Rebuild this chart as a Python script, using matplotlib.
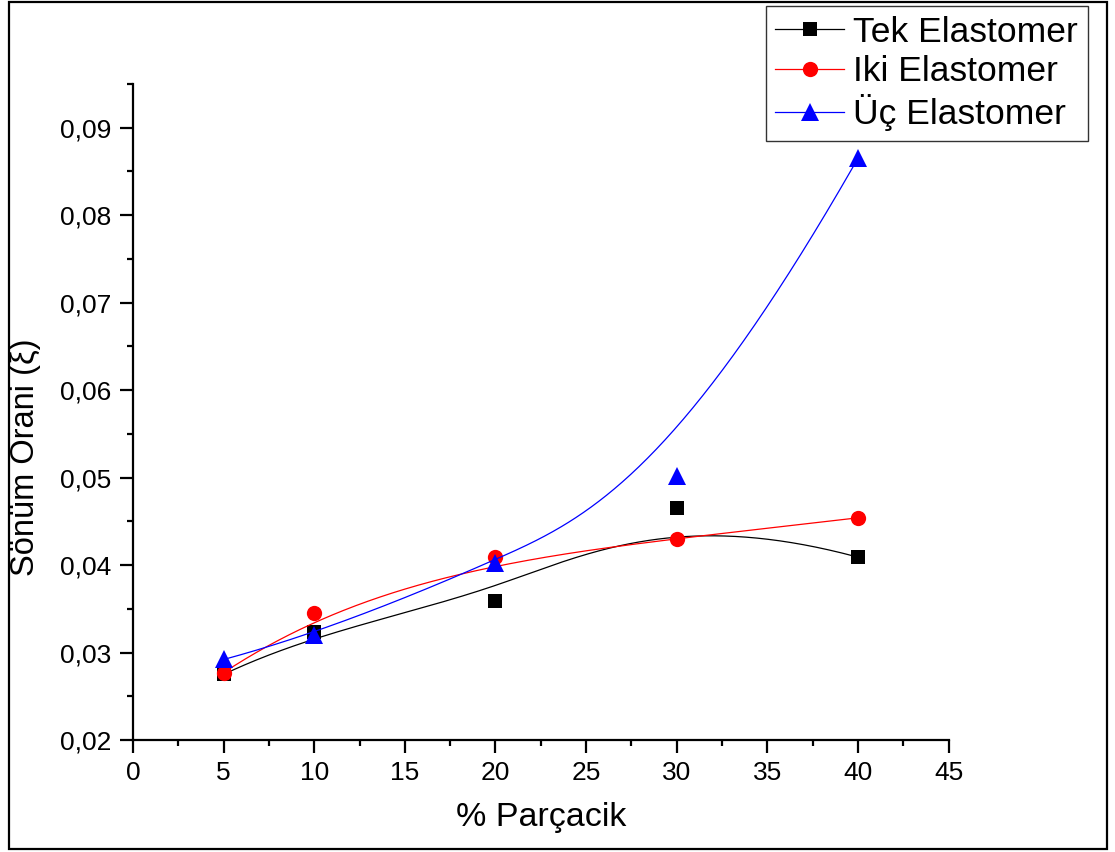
import matplotlib

matplotlib.use("Agg")
import matplotlib.pyplot as plt
import numpy as np
from matplotlib.patches import Rectangle
from matplotlib.ticker import FuncFormatter, MultipleLocator

plt.rcParams["font.family"] = ["Liberation Sans", "DejaVu Sans"]

# particle content (%)
parcacik = [5, 10, 20, 30, 40]

# damping ratio per elastomer count
tek = [0.0275, 0.0324, 0.0359, 0.0465, 0.0409]
iki = [0.0277, 0.0345, 0.0409, 0.0430, 0.0454]
uc = [0.0292, 0.0320, 0.0402, 0.0502, 0.0865]

series = [
    ("Tek Elastomer", tek, "black", "s", 10.5),
    ("Iki Elastomer", iki, "red", "o", 11),
    ("Üç Elastomer", uc, "blue", "^", 13),
]


def bspline(xs, ys, k=3, n=400):
    """Clamped cubic B-spline using the data points as control points."""
    ctrl = np.column_stack([xs, ys]).astype(float)
    m = len(ctrl)
    knots = np.concatenate([np.zeros(k), np.linspace(0, 1, m - k + 1), np.ones(k)])
    t = np.linspace(0, 1, n)
    # degree-0 basis
    N = np.zeros((n, len(knots) - 1))
    for i in range(len(knots) - 1):
        N[:, i] = (knots[i] <= t) & (t < knots[i + 1])
    N[-1, m - 1] = 1.0
    for d in range(1, k + 1):
        Nn = np.zeros((n, len(knots) - 1 - d))
        for i in range(len(knots) - 1 - d):
            left = knots[i + d] - knots[i]
            right = knots[i + d + 1] - knots[i + 1]
            a = (t - knots[i]) / left * N[:, i] if left > 0 else 0
            b = (knots[i + d + 1] - t) / right * N[:, i + 1] if right > 0 else 0
            Nn[:, i] = a + b
        N = Nn
    pts = N @ ctrl
    return pts[:, 0], pts[:, 1]


fig = plt.figure(figsize=(11.15, 8.52), dpi=100)
ax = fig.add_axes([0.1193, 0.1315, 0.7314, 0.7699])

for name, vals, color, marker, ms in series:
    cx, cy = bspline(parcacik, vals)
    ax.plot(cx, cy, color=color, lw=0.9)
    ax.plot(parcacik, vals, linestyle="none", marker=marker, color=color,
            markersize=ms, markeredgewidth=0)
    # legend proxy: line + marker
    ax.plot([], [], color=color, lw=0.9, marker=marker, markersize=ms,
            markeredgewidth=0, label=name)

ax.set_xlim(0, 45)
ax.set_ylim(0.02, 0.0950001)
ax.xaxis.set_major_locator(MultipleLocator(5))
ax.xaxis.set_minor_locator(MultipleLocator(2.5))
ax.yaxis.set_major_locator(MultipleLocator(0.01))
ax.yaxis.set_minor_locator(MultipleLocator(0.005))
ax.yaxis.set_major_formatter(FuncFormatter(lambda v, _: f"{v:.2f}".replace(".", ",")))

for side in ["top", "right"]:
    ax.spines[side].set_visible(False)
for side in ["left", "bottom"]:
    ax.spines[side].set_linewidth(1.6)

ax.tick_params(which="major", direction="out", length=9.5, width=1.6,
               labelsize=19, pad=6)
ax.tick_params(which="minor", direction="out", length=4.5, width=1.6)

ax.set_xlabel("% Parçacik", fontsize=24.5, labelpad=12)
ax.set_ylabel("Sönüm Orani (ξ)", fontsize=23.5)
ax.yaxis.set_label_coords(-0.113, 0.431)

leg = fig.legend(loc="upper right", bbox_to_anchor=(0.9758, 0.993),
                 fontsize=25.5, frameon=True, fancybox=False,
                 handlelength=1.95, handletextpad=0.25, labelspacing=0.17,
                 borderpad=0.28, borderaxespad=0)
leg.get_frame().set_edgecolor("black")
leg.get_frame().set_linewidth(1.0)

# outer frame round the whole figure
fig.patches.append(Rectangle((0.008, 0.0035), 0.9848, 0.9941,
                             transform=fig.transFigure, fill=False,
                             edgecolor="black", linewidth=1.6))

fig.savefig("out.png", dpi=100)
